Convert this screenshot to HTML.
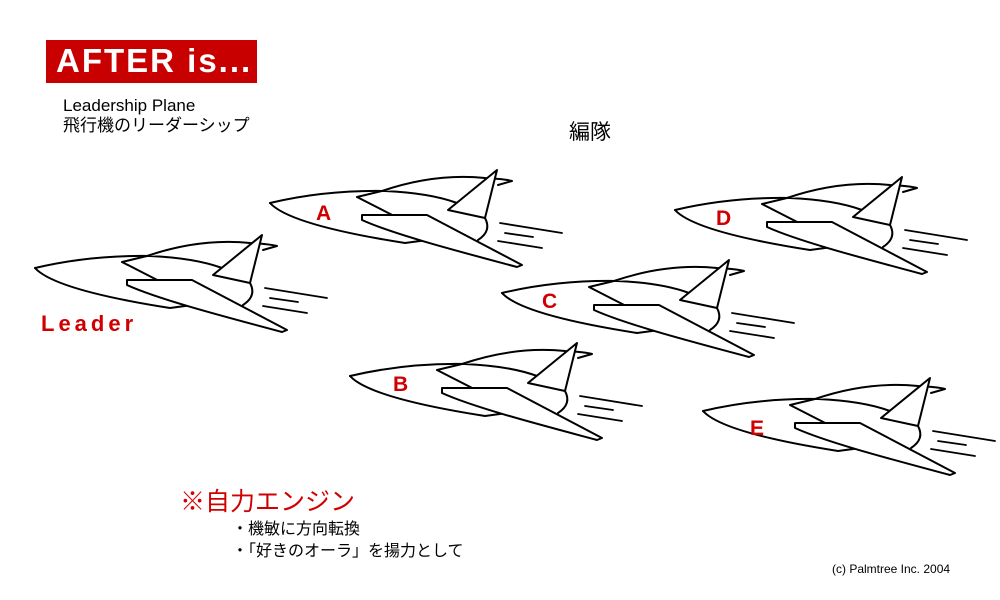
<!DOCTYPE html>
<html><head><meta charset="utf-8">
<style>
body{margin:0;background:#fff;}
.wrap{position:relative;width:1000px;height:600px;overflow:hidden;background:#fff;font-family:"Liberation Sans","Noto Sans CJK JP",sans-serif;}
.t{position:absolute;white-space:nowrap;line-height:1;}
</style></head><body>
<div class="wrap">
<div style="position:absolute;left:46px;top:40px;width:211px;height:43px;background:#c80000;"></div>
<div class="t" style="left:56px;top:44px;color:#fff;font-weight:bold;font-size:33px;letter-spacing:2px;">AFTER is...</div>
<div class="t" style="left:63px;top:97px;font-size:17px;color:#000;">Leadership Plane</div>
<div class="t" style="left:63px;top:117px;font-size:17px;color:#000;">飛行機のリーダーシップ</div>
<div class="t" style="left:569px;top:122px;font-size:21px;color:#000;">編隊</div>
<div class="t" style="left:180px;top:490px;font-size:25px;color:#d00000;">※自力エンジン</div>
<div class="t" style="left:232px;top:522px;font-size:16px;color:#000;">・機敏に方向転換</div>
<div class="t" style="left:232px;top:544px;font-size:16px;color:#000;">・「好きのオーラ」を揚力として</div>
<div class="t" style="left:832px;top:563px;font-size:12px;color:#000;">(c) Palmtree Inc. 2004</div>
<svg width="1000" height="600" style="position:absolute;left:0;top:0">
<defs>
<g id="p" fill="none" stroke="#000" stroke-width="2" stroke-linejoin="round" stroke-linecap="round">
<path d="M35,268 Q90,255 150,256 Q195,258 222,268" fill="#fff"/>
<path d="M35,268 Q55,290 170,308 L230,300"/>
<path d="M147,256 Q200,238 250,243 Q270,244 277,246 L263,250" fill="#fff"/>
<path d="M122,262 L147,256 M122,262 L165,284"/>
<path d="M213,275 L262,235 L250,283 Z" fill="#fff"/>
<path d="M250,283 Q257,296 243,305"/>
<path d="M127,280 L192,280 L287,330 L282,332 C230,318 160,300 127,285 Z" fill="#fff"/>
<path d="M265,288 L327,298 M270,298 L298,302 M263,306 L307,313" stroke-width="1.8"/>
</g>
</defs>
<use href="#p"/>
<use href="#p" transform="translate(235,-65)"/>
<use href="#p" transform="translate(640,-58)"/>
<use href="#p" transform="translate(467,25)"/>
<use href="#p" transform="translate(315,108)"/>
<use href="#p" transform="translate(668,143)"/>
<g fill="#d00000" font-family="Liberation Sans, sans-serif" font-weight="bold" font-size="21">
<text x="316" y="220">A</text>
<text x="716" y="225">D</text>
<text x="542" y="308">C</text>
<text x="393" y="391">B</text>
<text x="750" y="435">E</text>
<text x="41" y="331" font-size="22" letter-spacing="4">Leader</text>
</g>
</svg>
</div>
</body></html>
